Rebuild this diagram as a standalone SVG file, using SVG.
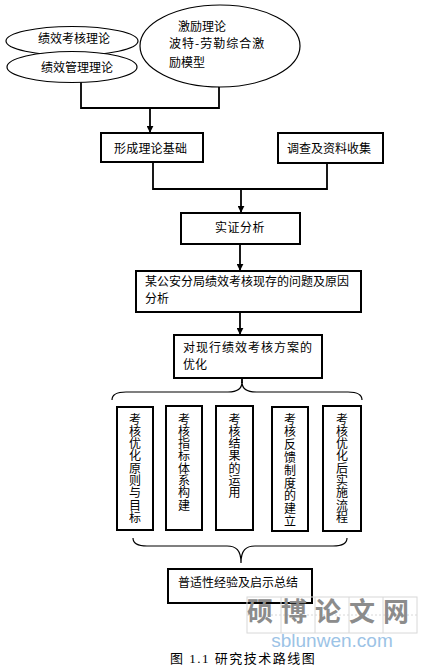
<svg xmlns="http://www.w3.org/2000/svg" width="435" height="668" viewBox="0 0 435 668">
<defs>
<style>
.t{font-family:"Noto Sans CJK SC","Liberation Sans",sans-serif;font-size:12px;fill:#000}
.v{font-family:"Noto Sans CJK SC","Liberation Sans",sans-serif;font-size:12px;fill:#000;writing-mode:vertical-rl;letter-spacing:0.3px}
.box{fill:#fff;stroke:#000;stroke-width:2}
.ell{fill:#fff;stroke:#000;stroke-width:1.2}
.ln{fill:none;stroke:#000;stroke-width:1.8}
.br{fill:none;stroke:#000;stroke-width:1.2}
</style>
<marker id="ah" viewBox="0 0 10 10" refX="9" refY="5" markerWidth="7" markerHeight="7" orient="auto" markerUnits="userSpaceOnUse">
<path d="M0,0 L10,5 L0,10 z" fill="#000"/>
</marker>
</defs>
<rect width="435" height="668" fill="#fff"/>
<g id="connectors">
<polyline class="ln" points="81,82 81,108 219,108 219,86"/>
<line class="ln" x1="150" y1="108" x2="150" y2="132" marker-end="url(#ah)"/>
<polyline class="ln" points="153,162 153,189 327,189 327,163"/>
<line class="ln" x1="241" y1="189" x2="241" y2="212" marker-end="url(#ah)"/>
<line class="ln" x1="240" y1="244" x2="240" y2="270" marker-end="url(#ah)"/>
<line class="ln" x1="240" y1="312" x2="240" y2="334" marker-end="url(#ah)"/>
<line class="ln" x1="242" y1="378" x2="242" y2="383"/>
<path class="br" d="M112,400 C112,394 117,392 126,392 L228,392 C237,392 242,389 242,382 C242,389 247,392 256,392 L348,392 C357,392 362,394 362,400"/>
<path class="br" d="M133,538 C133,544 138,546 147,546 L227,546 C236,546 241,550 241,563 C241,550 246,546 255,546 L333,546 C342,546 347,544 347,538"/>
</g>
<g id="n_kaohe">
<ellipse class="ell" cx="72" cy="41" rx="66" ry="14.5"/>
<text class="t" x="74" y="42.5" text-anchor="middle">绩效考核理论</text>
</g>
<g id="n_guanli">
<ellipse class="ell" cx="72" cy="67" rx="65" ry="15.5"/>
<text class="t" x="77" y="71.5" text-anchor="middle">绩效管理理论</text>
</g>
<g id="n_jili">
<ellipse class="ell" cx="220" cy="46" rx="80" ry="41"/>
<text class="t" x="178" y="30.5">激励理论</text>
<text class="t" x="169" y="48" letter-spacing="1">波特-劳勒综合激</text>
<text class="t" x="169" y="66.5">励模型</text>
</g>
<g id="n_jichu">
<rect class="box" x="101" y="133" width="102" height="29"/>
<text class="t" x="114" y="152.5" letter-spacing="0.2">形成理论基础</text>
</g>
<g id="n_diaocha">
<rect class="box" x="278" y="133" width="105" height="30"/>
<text class="t" x="287" y="152.5">调查及资料收集</text>
</g>
<g id="n_shizheng">
<rect class="box" x="181" y="213" width="119" height="31"/>
<text class="t" x="240" y="231.5" text-anchor="middle" letter-spacing="0.5">实证分析</text>
</g>
<g id="n_wenti">
<rect class="box" x="136" y="271" width="225" height="41"/>
<text class="t" x="145" y="285.5">某公安分局绩效考核现存的问题及原因</text>
<text class="t" x="145" y="303">分析</text>
</g>
<g id="n_youhua">
<rect class="box" x="174" y="335" width="148" height="43"/>
<text class="t" x="183" y="351.5" letter-spacing="1">对现行绩效考核方案的</text>
<text class="t" x="183" y="369">优化</text>
</g>
<g id="n_c1">
<rect class="box" x="117" y="407" width="36" height="123"/>
<text class="v" x="135" y="413">考核优化原则与目标</text>
</g>
<g id="n_c2">
<rect class="box" x="166" y="406" width="36" height="124"/>
<text class="v" x="184" y="413">考核指标体系构建</text>
</g>
<g id="n_c3">
<rect class="box" x="216" y="406" width="37" height="124"/>
<text class="v" x="234.5" y="413">考核结果的运用</text>
</g>
<g id="n_c4">
<rect class="box" x="272" y="407" width="36" height="124"/>
<text class="v" x="290" y="413" style="letter-spacing:0.8px">考核反馈制度的建立</text>
</g>
<g id="n_c5">
<rect class="box" x="323" y="406" width="38" height="125"/>
<text class="v" x="342" y="413">考核优化后实施流程</text>
</g>
<g id="n_zongjie">
<rect class="box" x="168" y="569" width="144" height="34"/>
<text class="t" x="178" y="586.5">普适性经验及启示总结</text>
</g>
<g id="watermark">
<g fill="none" stroke="#d8d8d8" stroke-width="1">
<rect x="247" y="597" width="170" height="36"/>
<line x1="281" y1="597" x2="281" y2="633"/>
<line x1="315" y1="597" x2="315" y2="633"/>
<line x1="349" y1="597" x2="349" y2="633"/>
<line x1="383" y1="597" x2="383" y2="633"/>
<line x1="247" y1="615" x2="417" y2="615" stroke-dasharray="2,2"/>
</g>
<text x="332" y="621" text-anchor="middle" font-family="Noto Sans CJK SC,sans-serif" font-size="26" font-weight="bold" fill="#8c8c8c" letter-spacing="8">硕博论文网</text>
<text x="332" y="647" text-anchor="middle" font-family="Liberation Sans,sans-serif" font-size="19" fill="#9cc3e6">sblunwen.com</text>
</g>
<text x="170" y="663" font-family="Liberation Serif,Noto Sans CJK SC,serif" font-size="13" letter-spacing="1.5" fill="#000">图 1.1  研究技术路线图</text>
</svg>
